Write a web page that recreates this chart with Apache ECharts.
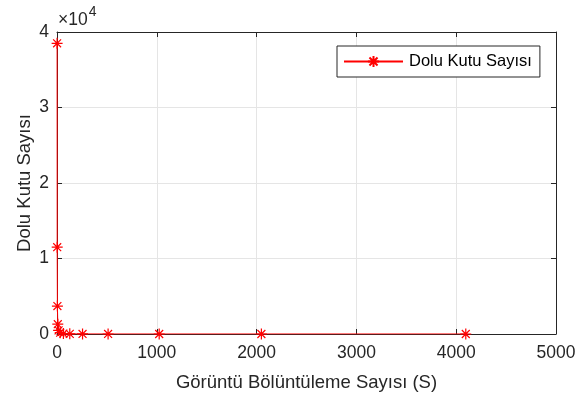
<!DOCTYPE html>
<html><head><meta charset="utf-8">
<script src="https://cdn.jsdelivr.net/npm/echarts@6/dist/echarts.min.js"></script>
<style>html,body{margin:0;padding:0;background:#fff}#c{width:587px;height:394px}</style>
</head><body><div id="c"></div>
<script>
const xValues = [1, 2, 4, 8, 16, 32, 64, 128, 256, 512, 1024, 2048, 4096];
const yValues = [38500, 11500, 3700, 1300, 480, 170, 60, 20, 7, 3, 1, 1, 1];
const xTicks = [0, 1000, 2000, 3000, 4000, 5000];
const yTicks = [0, 1, 2, 3, 4];
const seriesName = 'Dolu Kutu Sayısı';
const xTitle = 'Görüntü Bölüntüleme Sayısı (S)';
const yTitle = 'Dolu Kutu Sayısı';

const font = "'Liberation Sans', Arial, sans-serif";
const dark = '#262626';
const star = 'path://M0,-5L0,5M-5,0L5,0M-3.6,-3.6L3.6,3.6M-3.6,3.6L3.6,-3.6';
const chart = echarts.init(document.getElementById('c'));
function line() { return {show: true, onZero: false, lineStyle: {color: dark, width: 1}}; }
function tick() { return {show: true, inside: true, length: 5, lineStyle: {color: dark, width: 1}}; }
chart.setOption({
  animation: false,
  grid: {left: 57, right: 31, top: 32, bottom: 60, containLabel: false, outerBoundsMode: 'none'},
  xAxis: [
    {
      type: 'value', min: 0, max: 5000, interval: 1000, position: 'bottom',
      axisLine: line(), axisTick: tick(),
      name: xTitle, nameLocation: 'middle', nameGap: 39,
      nameTextStyle: {fontFamily: font, fontSize: 18.5, color: dark},
      axisLabel: {fontFamily: font, fontSize: 17.5, color: dark, margin: 10,
        formatter: v => xTicks.includes(v) ? String(v) : ''},
      splitLine: {show: true, lineStyle: {color: '#e5e5e5'}}
    },
    {
      type: 'value', min: 0, max: 5000, interval: 1000, position: 'top',
      axisLine: line(), axisTick: tick(),
      axisLabel: {show: false}, splitLine: {show: false}
    }
  ],
  yAxis: [
    {
      type: 'value', min: 0, max: 40000, interval: 10000, position: 'left',
      axisLine: line(), axisTick: tick(),
      name: yTitle, nameLocation: 'middle', nameGap: 23, nameMoveOverlap: false,
      nameTextStyle: {fontFamily: font, fontSize: 18.5, color: dark},
      axisLabel: {fontFamily: font, fontSize: 17.5, color: dark, margin: 8,
        formatter: v => { const t = v / 10000; return yTicks.includes(t) ? String(t) : ''; }},
      splitLine: {show: true, lineStyle: {color: '#e5e5e5'}}
    },
    {
      type: 'value', min: 0, max: 40000, interval: 10000, position: 'right',
      axisLine: line(), axisTick: tick(),
      axisLabel: {show: false}, splitLine: {show: false}
    }
  ],
  legend: {
    show: true, left: 337, top: 46,
    backgroundColor: '#fff', borderColor: dark, borderWidth: 1,
    padding: [7, 8, 7, 6], itemWidth: 59, itemHeight: 14, itemGap: 4,
    textStyle: {fontFamily: font, fontSize: 16.5, color: '#000', padding: [0, 0, 0, 1]},
    data: [{name: seriesName}]
  },
  graphic: [{
    type: 'text', left: 58, top: 5,
    style: {
      text: '{a|×10}{b|4}',
      rich: {
        a: {fontFamily: font, fontSize: 17.5, fill: dark, verticalAlign: 'bottom', lineHeight: 24},
        b: {fontFamily: font, fontSize: 14, fill: dark, verticalAlign: 'top', lineHeight: 14, padding: [0, 0, 8, 1]}
      }
    }
  }],
  series: [{
    name: seriesName, type: 'line',
    data: xValues.map((x, i) => [x, yValues[i]]),
    symbol: star, symbolSize: 11, showAllSymbol: true,
    lineStyle: {color: '#ff0000', width: 1},
    itemStyle: {color: 'rgba(0,0,0,0)', borderColor: '#ff0000', borderWidth: 1.2},
    emphasis: {disabled: true}
  }]
});
</script></body></html>
